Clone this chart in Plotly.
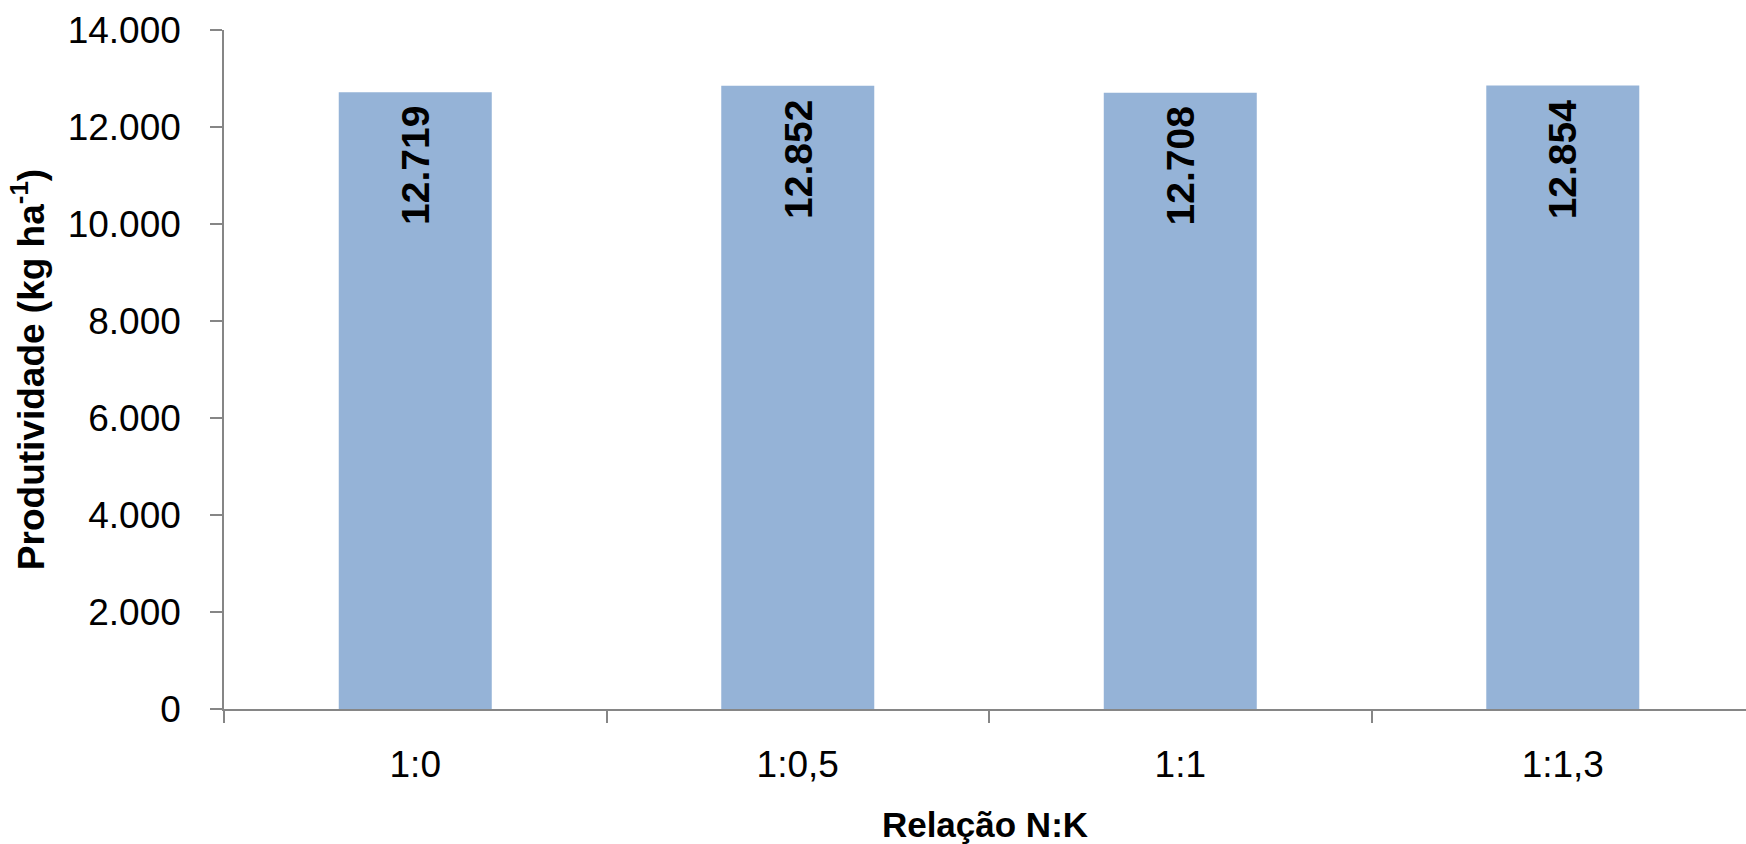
import plotly.graph_objects as go

# Produtividade por relação N:K
categories = ["1:0", "1:0,5", "1:1", "1:1,3"]
produtividade = [12719, 12852, 12708, 12854]
y_ticks = [0, 2000, 4000, 6000, 8000, 10000, 12000, 14000]

FONT = "Liberation Sans"
AXIS_GRAY = "#868686"


def fmt_milhar(v):
    # separador de milhar com ponto
    return f"{v:,d}".replace(",", ".")


fig = go.Figure(
    go.Bar(
        x=categories,
        y=produtividade,
        width=0.4,
        marker=dict(color="#95B3D7", line=dict(width=0)),
        hoverinfo="skip",
    )
)

# Rótulos de valor, verticais, logo abaixo do topo de cada barra
for cat, val in zip(categories, produtividade):
    fig.add_annotation(
        x=cat,
        y=val,
        text=fmt_milhar(val),
        textangle=-90,
        showarrow=False,
        xanchor="center",
        yanchor="top",
        yshift=-12,
        font=dict(family=FONT, size=39, color="black", weight="bold"),
    )

fig.update_layout(
    width=1746,
    height=844,
    margin=dict(l=224, r=0, t=30, b=135),
    paper_bgcolor="white",
    plot_bgcolor="white",
    separators=",.",
    showlegend=False,
    font=dict(family=FONT, color="black"),
)

fig.update_xaxes(
    type="category",
    range=[-0.5, 3.479],
    tickson="boundaries",
    ticks="outside",
    ticklen=12,
    tickwidth=1.5,
    tickcolor=AXIS_GRAY,
    showline=True,
    linecolor=AXIS_GRAY,
    linewidth=1.5,
    showgrid=False,
    tickfont=dict(family=FONT, size=37, color="black"),
    ticklabelstandoff=22,
    title=dict(
        text="Relação N:K",
        font=dict(family=FONT, size=35, color="black", weight="bold"),
        standoff=32,
    ),
)

fig.update_yaxes(
    range=[0, 14000],
    tickvals=y_ticks,
    tickformat=",d",
    ticks="outside",
    ticklen=12,
    tickwidth=1.5,
    tickcolor=AXIS_GRAY,
    showline=True,
    linecolor=AXIS_GRAY,
    linewidth=1.5,
    showgrid=False,
    zeroline=False,
    tickfont=dict(family=FONT, size=37, color="black"),
    ticklabelstandoff=22,
    title=dict(
        text="Produtividade (kg ha<sup>-1</sup>)",
        font=dict(family=FONT, size=37, color="black", weight="bold"),
        standoff=12,
    ),
)

fig.write_html("out.html")
